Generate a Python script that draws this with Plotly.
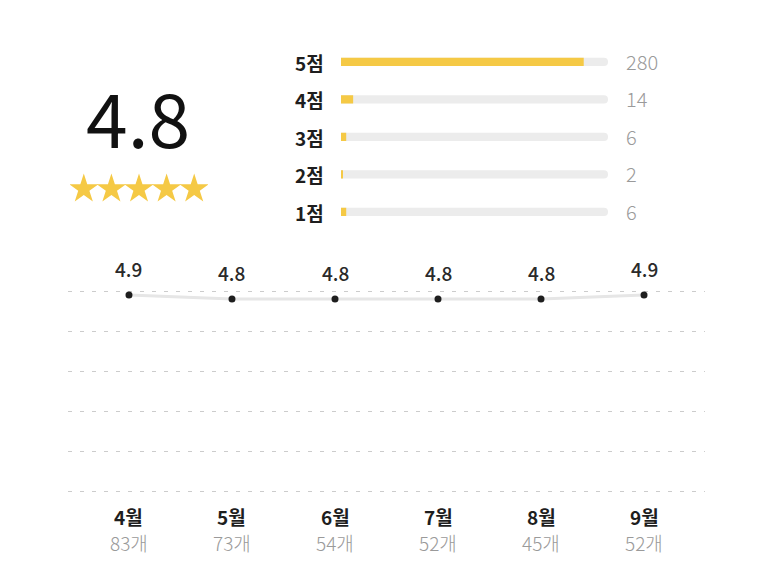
import plotly.graph_objects as go

W, H = 773, 581

# rating summary
average = 4.8
score_labels = ["5점", "4점", "3점", "2점", "1점"]
score_counts = [280, 14, 6, 2, 6]

# monthly trend
months = ["4월", "5월", "6월", "7월", "8월", "9월"]
month_avg = [4.9, 4.8, 4.8, 4.8, 4.8, 4.9]
month_reviews = [83, 73, 54, 52, 45, 52]

YELLOW = "#f5c945"
TRACK = "#ececec"
DARK = "#1e1e1e"
GRAY = "#9a9a9a"
FONT = "Noto Sans CJK KR"


def px(x):
    return x / W


def py(y):
    return 1 - y / H


total = sum(score_counts)
rows = list(range(len(score_labels)))

fig = go.Figure()

# score distribution bars: grey track + yellow fill
fig.add_trace(go.Bar(
    y=rows, x=[total] * len(rows), orientation="h",
    marker=dict(color=TRACK, cornerradius=4, line_width=0),
    width=0.22, xaxis="x2", yaxis="y2", hoverinfo="skip",
))
fig.add_trace(go.Bar(
    y=rows, x=score_counts, orientation="h",
    marker=dict(color=YELLOW, cornerradius=4, line_width=0),
    width=0.22, xaxis="x2", yaxis="y2", hoverinfo="skip",
))

# stars
n_stars = round(average)
fig.add_trace(go.Scatter(
    x=list(range(n_stars)), y=[0] * n_stars, mode="markers",
    marker=dict(symbol="star", size=22, color=YELLOW, line_width=0),
    xaxis="x3", yaxis="y3", hoverinfo="skip",
))

# monthly trend line
xi = list(range(len(months)))
fig.add_trace(go.Scatter(
    x=xi, y=month_avg, mode="lines+markers",
    line=dict(color="#e6e6e6", width=3),
    marker=dict(color=DARK, size=7),
    cliponaxis=False, hoverinfo="skip",
))

ann = []
ann.append(dict(x=px(138), y=py(116), xref="paper", yref="paper",
                text="4.8", showarrow=False, xanchor="center", yanchor="middle",
                font=dict(family=FONT, size=75, color="#111", weight=400)))

for i, (lab, cnt) in enumerate(zip(score_labels, score_counts)):
    ann.append(dict(x=px(326), y=i, xref="paper", yref="y2", text=lab,
                    showarrow=False, xanchor="right", yanchor="middle",
                    font=dict(family=FONT, size=19, color=DARK, weight=700)))
    ann.append(dict(x=px(624), y=i, xref="paper", yref="y2", text=str(cnt),
                    showarrow=False, xanchor="left", yanchor="middle",
                    yshift=1,
                    font=dict(family=FONT, size=20, color=GRAY, weight=300)))

for i, (m, v, n) in enumerate(zip(months, month_avg, month_reviews)):
    ann.append(dict(x=i, y=v, xref="x", yref="y", text=f"{v:.1f}",
                    showarrow=False, yshift=26, xanchor="center",
                    yanchor="middle",
                    font=dict(family=FONT, size=19, color="#2a2a2a",
                              weight=500)))
    ann.append(dict(x=i, y=py(516), xref="x", yref="paper", text=m,
                    showarrow=False, xanchor="center", yanchor="middle",
                    font=dict(family=FONT, size=19, color=DARK, weight=700)))
    ann.append(dict(x=i, y=py(542), xref="x", yref="paper", text=f"{n}개",
                    showarrow=False, xanchor="center", yanchor="middle",
                    font=dict(family=FONT, size=19, color=GRAY, weight=300)))

fig.update_layout(
    width=W, height=H,
    margin=dict(l=0, r=0, t=0, b=0),
    paper_bgcolor="white", plot_bgcolor="white",
    showlegend=False, barmode="overlay",
    annotations=ann,
    xaxis=dict(domain=[px(68), px(705)], range=[-0.592, 5.592],
               showgrid=False, zeroline=False, showticklabels=False,
               fixedrange=True),
    yaxis=dict(domain=[py(495), py(287)], range=[-0.1, 5.1], dtick=1,
               tick0=0, showgrid=True, gridcolor="#cccccc",
               griddash="4px,8px", gridwidth=1, zeroline=False,
               showticklabels=False, fixedrange=True),
    xaxis2=dict(domain=[px(341), px(608)], range=[0, total],
                showgrid=False, zeroline=False, showticklabels=False,
                anchor="y2"),
    yaxis2=dict(domain=[py(230.75), py(43.25)], range=[4.5, -0.5],
                showgrid=False, zeroline=False, showticklabels=False,
                anchor="x2"),
    xaxis3=dict(domain=[px(70), px(208)], range=[-0.5, 4.5],
                showgrid=False, zeroline=False, showticklabels=False,
                anchor="y3"),
    yaxis3=dict(domain=[py(205), py(173)], range=[-1, 1],
                showgrid=False, zeroline=False, showticklabels=False,
                anchor="x3"),
)

fig.write_html("out.html", config={"displayModeBar": False},
               post_script="document.body.style.margin='0';")
